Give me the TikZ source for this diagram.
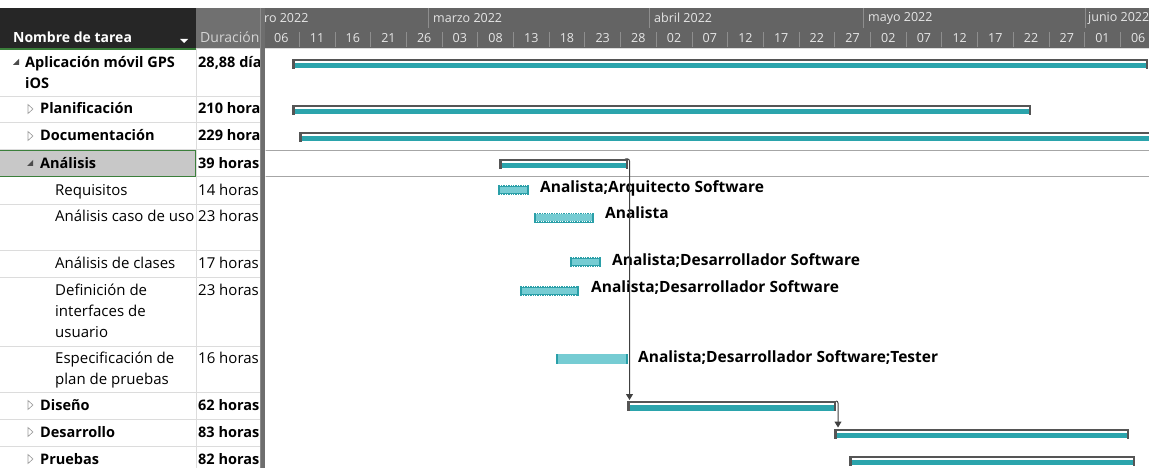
\documentclass[tikz,border=0pt]{standalone}
\usepackage{fontspec}
\setmainfont{Open Sans}
\usetikzlibrary{arrows.meta}
\definecolor{hdrdark}{HTML}{262626}
\definecolor{hdrgrey}{HTML}{646464}
\definecolor{durhdr}{HTML}{707070}
\definecolor{hdrtext}{HTML}{E6E6E6}
\definecolor{durtext}{HTML}{D4D4D4}
\definecolor{tickc}{HTML}{8E8E8E}
\definecolor{divc}{HTML}{6E6E6E}
\definecolor{gridc}{HTML}{DCDCDC}
\definecolor{selgrey}{HTML}{C8C8C8}
\definecolor{selgreen}{HTML}{3B7F3B}
\definecolor{selline}{HTML}{A6A6A6}
\definecolor{barteal}{HTML}{2BA4AC}
\definecolor{barline}{HTML}{555555}
\definecolor{lteal}{HTML}{76CCD3}
\definecolor{dteal}{HTML}{2A9FA8}
\definecolor{connc}{HTML}{404040}
\definecolor{trig}{HTML}{9A9A9A}
\tikzset{
  txt/.style={anchor=base west, inner sep=0, font=\fontsize{15}{18}\selectfont},
  btxt/.style={anchor=base west, inner sep=0, font=\fontsize{14.5}{18}\selectfont\bfseries},
  lbl/.style={anchor=base west, inner sep=0, font=\fontsize{15.5}{18}\selectfont\bfseries},
  daylbl/.style={inner sep=0, text=hdrtext, font=\fontsize{12.5}{14}\selectfont},
  monlbl/.style={anchor=west, inner sep=0, text=hdrtext, font=\fontsize{12.5}{15}\selectfont},
  sumbar/.style={rectangle, inner sep=0, outer sep=0, minimum height=10pt, anchor=north west,
    path picture={
      \fill[barteal] ([xshift=2.5pt,yshift=-4pt]path picture bounding box.north west) rectangle ([xshift=-2.5pt,yshift=0.5pt]path picture bounding box.south east);
      \fill[barline] (path picture bounding box.north west) rectangle ([yshift=-2pt]path picture bounding box.north east);
      \fill[barline] (path picture bounding box.north west) rectangle ([xshift=2.5pt]path picture bounding box.south west);
      \fill[barline] ([xshift=-2.5pt]path picture bounding box.north east) rectangle (path picture bounding box.south east);
    }},
  plainbar/.style={rectangle, inner sep=0, outer sep=0, minimum height=10pt, anchor=north west, fill=lteal,
    path picture={
      \fill[dteal] (path picture bounding box.north west) rectangle ([xshift=2pt]path picture bounding box.south west);
      \fill[dteal] ([xshift=-2pt]path picture bounding box.north east) rectangle (path picture bounding box.south east);
    }},
  hatchbar/.style={rectangle, inner sep=0, outer sep=0, minimum height=10pt, anchor=north west, fill=lteal,
    path picture={
      \draw[dteal, line width=1.6pt] ([yshift=-0.8pt]path picture bounding box.north west) -- ([yshift=-0.8pt]path picture bounding box.north east);
      \draw[dteal, line width=1.6pt] ([yshift=0.8pt]path picture bounding box.south west) -- ([yshift=0.8pt]path picture bounding box.south east);
      \draw[white, line width=0.9pt, dash pattern=on 0.9pt off 1.5pt] ([xshift=2pt,yshift=-0.8pt]path picture bounding box.north west) -- ([xshift=-2pt,yshift=-0.8pt]path picture bounding box.north east);
      \draw[white, line width=0.9pt, dash pattern=on 0.9pt off 1.5pt] ([xshift=2pt,yshift=0.8pt]path picture bounding box.south west) -- ([xshift=-2pt,yshift=0.8pt]path picture bounding box.south east);
      \fill[dteal] (path picture bounding box.north west) rectangle ([xshift=2pt]path picture bounding box.south west);
      \fill[dteal] ([xshift=-2pt]path picture bounding box.north east) rectangle (path picture bounding box.south east);
    }},
  conn/.style={draw=connc, line width=1pt, rounded corners=2pt, -{Triangle[length=6pt,width=7pt]}},
  opentri/.style={draw=trig, line width=0.6pt, fill=white},
  filltri/.style={fill=black!70},
}
\begin{document}
\begin{tikzpicture}[x=1pt,y=-1pt]
\useasboundingbox (0,0) rectangle (1149,468);
\fill[white] (0,0) rectangle (1149,468);

% ---------- header ----------
\fill[hdrdark] (0,8) rectangle (196,48);
\fill[durhdr] (196,8) rectangle (261,48);
\fill[hdrgrey] (261,8) rectangle (1149,48);
\node[anchor=base west, inner sep=0, text=white, font=\fontsize{14}{16}\selectfont\bfseries] (hname) at (13,43) {Nombre de tarea};
\fill[white] (180,39) -- (188,39) -- (184,43) -- cycle;
\node[anchor=base west, inner sep=0, text=durtext, font=\fontsize{14}{16}\selectfont] (hdur) at (200,43) {Duración};
\draw[selgreen, line width=2pt] (0,49) -- (196,49);
\draw[gridc, line width=1pt] (196,49) -- (1149,49);

% month labels and separators
\begin{scope}
\clip (265,8) rectangle (1149,48);
\node[monlbl] (m1) at (264,18) {ro 2022};
\node[monlbl] (m2) at (433,18) {marzo 2022};
\node[monlbl] (m3) at (654,18) {abril 2022};
\node[monlbl] (m4) at (868,18) {mayo 2022};
\node[monlbl] (m5) at (1088,18) {junio 2022};
\foreach \mx in {428,649,863,1085} \draw[tickc, line width=1pt] (\mx,8) -- (\mx,28);
\foreach \d [count=\k from 0] in {06,11,16,21,26,03,08,13,18,23,28,02,07,12,17,22,27,02,07,12,17,22,27,01,06}{
  \pgfmathsetmacro{\cx}{263.5+35.7*\k+17.85}
  \node[daylbl] (day\k) at (\cx,38) {\d};
}
\foreach \k in {1,...,24}{
  \pgfmathsetmacro{\tx}{263.5+35.7*\k}
  \draw[tickc, line width=0.8pt] (\tx,32) -- (\tx,47);
}
\end{scope}

% ---------- table ----------
\fill[selgrey] (0,150) rectangle (196,177);
\foreach \yy in {97,123,150,177,204,250,277,346,392,419,446} \draw[gridc, line width=1pt] (0,\yy) -- (261,\yy);
\draw[gridc, line width=1pt] (196,49) -- (196,468);
\draw[selgreen, line width=1.2pt] (-1,150.5) rectangle (195.5,176.5);

% triangles
\fill[filltri] (19,59) -- (19,65) -- (13,65) -- cycle;
\fill[filltri] (33,160) -- (33,166) -- (27,166) -- cycle;
\foreach \ty in {109,136,405,432,459} \draw[opentri] (28,\ty-4.5) -- (33,\ty) -- (28,\ty+4.5) -- cycle;

% task names
\node[btxt] (t1a) at (25,68) {Aplicación móvil GPS};
\node[btxt] (t1b) at (25,89) {iOS};
\node[btxt] (t2) at (40,114) {Planificación};
\node[btxt] (t3) at (40,141) {Documentación};
\node[btxt] (t4) at (40,168) {Análisis};
\node[txt] (t5) at (55,195) {Requisitos};
\node[txt] (t6) at (55,221.5) {Análisis caso de uso};
\node[txt] (t7) at (55,268) {Análisis de clases};
\node[txt] (t8a) at (55,295) {Definición de};
\node[txt] (t8b) at (55,316) {interfaces de};
\node[txt] (t8c) at (55,337) {usuario};
\node[txt] (t9a) at (55,363) {Especificación de};
\node[txt] (t9b) at (55,384) {plan de pruebas};
\node[btxt] (t10) at (40,410) {Diseño};
\node[btxt] (t11) at (40,437) {Desarrollo};
\node[btxt] (t12) at (40,464) {Pruebas};

% durations (clipped)
\begin{scope}
\clip (197,49) rectangle (260,468);
\node[btxt] (d1) at (198,68) {28,88 días};
\node[btxt] (d2) at (198,114) {210 horas};
\node[btxt] (d3) at (198,141) {229 horas};
\node[btxt] (d4) at (198,168) {39 horas};
\node[txt] (d5) at (198,195) {14 horas};
\node[txt] (d6) at (198,221.5) {23 horas};
\node[txt] (d7) at (198,268) {17 horas};
\node[txt] (d8) at (198,295) {23 horas};
\node[txt] (d9) at (198,363) {16 horas};
\node[btxt] (d10) at (198,410) {62 horas};
\node[btxt] (d11) at (198,437) {83 horas};
\node[btxt] (d12) at (198,464) {82 horas};
\end{scope}

% divider
\fill[divc] (260,8) rectangle (265,468);
\draw[black!45, line width=0.6pt] (260.3,8) -- (260.3,468);

% ---------- chart ----------
\begin{scope}
\clip (265.5,49.5) rectangle (1149,468);
\draw[selline, line width=1pt] (265,150.5) -- (1149,150.5);
\draw[selline, line width=1pt] (265,176.5) -- (1149,176.5);

\node[sumbar, minimum width=856pt] (app) at (292,59) {};
\node[sumbar, minimum width=739pt] (plan) at (292,105) {};
\node[sumbar, minimum width=870pt] (doc) at (299,132) {};
\node[sumbar, minimum width=129pt] (ana) at (499,159) {};
\node[sumbar, minimum width=209pt] (dis) at (627,401) {};
\node[sumbar, minimum width=295pt] (des) at (834,428.5) {};
\node[sumbar, minimum width=286pt] (pru) at (849,455.5) {};

\node[hatchbar, minimum width=31pt] (req) at (498,185) {};
\node[hatchbar, minimum width=60pt] (cu) at (534,212.5) {};
\node[hatchbar, minimum width=31pt] (cla) at (570,257) {};
\node[hatchbar, minimum width=59pt] (def) at (520,286) {};
\node[plainbar, minimum width=72pt] (esp) at (556,354) {};

\node[lbl] (lreq) at (540,192.5) {Analista;Arquitecto Software};
\node[lbl] (lcu) at (605,218.5) {Analista};
\node[lbl] (lcla) at (612,265.5) {Analista;Desarrollador Software};
\node[lbl] (ldef) at (591,292.5) {Analista;Desarrollador Software};
\node[lbl] (lesp) at (638,362) {Analista;Desarrollador Software;Tester};

\draw[conn] (ana.north east) -| ([xshift=2.5pt,yshift=1pt]dis.north west);
\draw[conn] (dis.north east) -| ([xshift=4pt,yshift=1pt]des.north west);
\end{scope}
\end{tikzpicture}
\end{document}
